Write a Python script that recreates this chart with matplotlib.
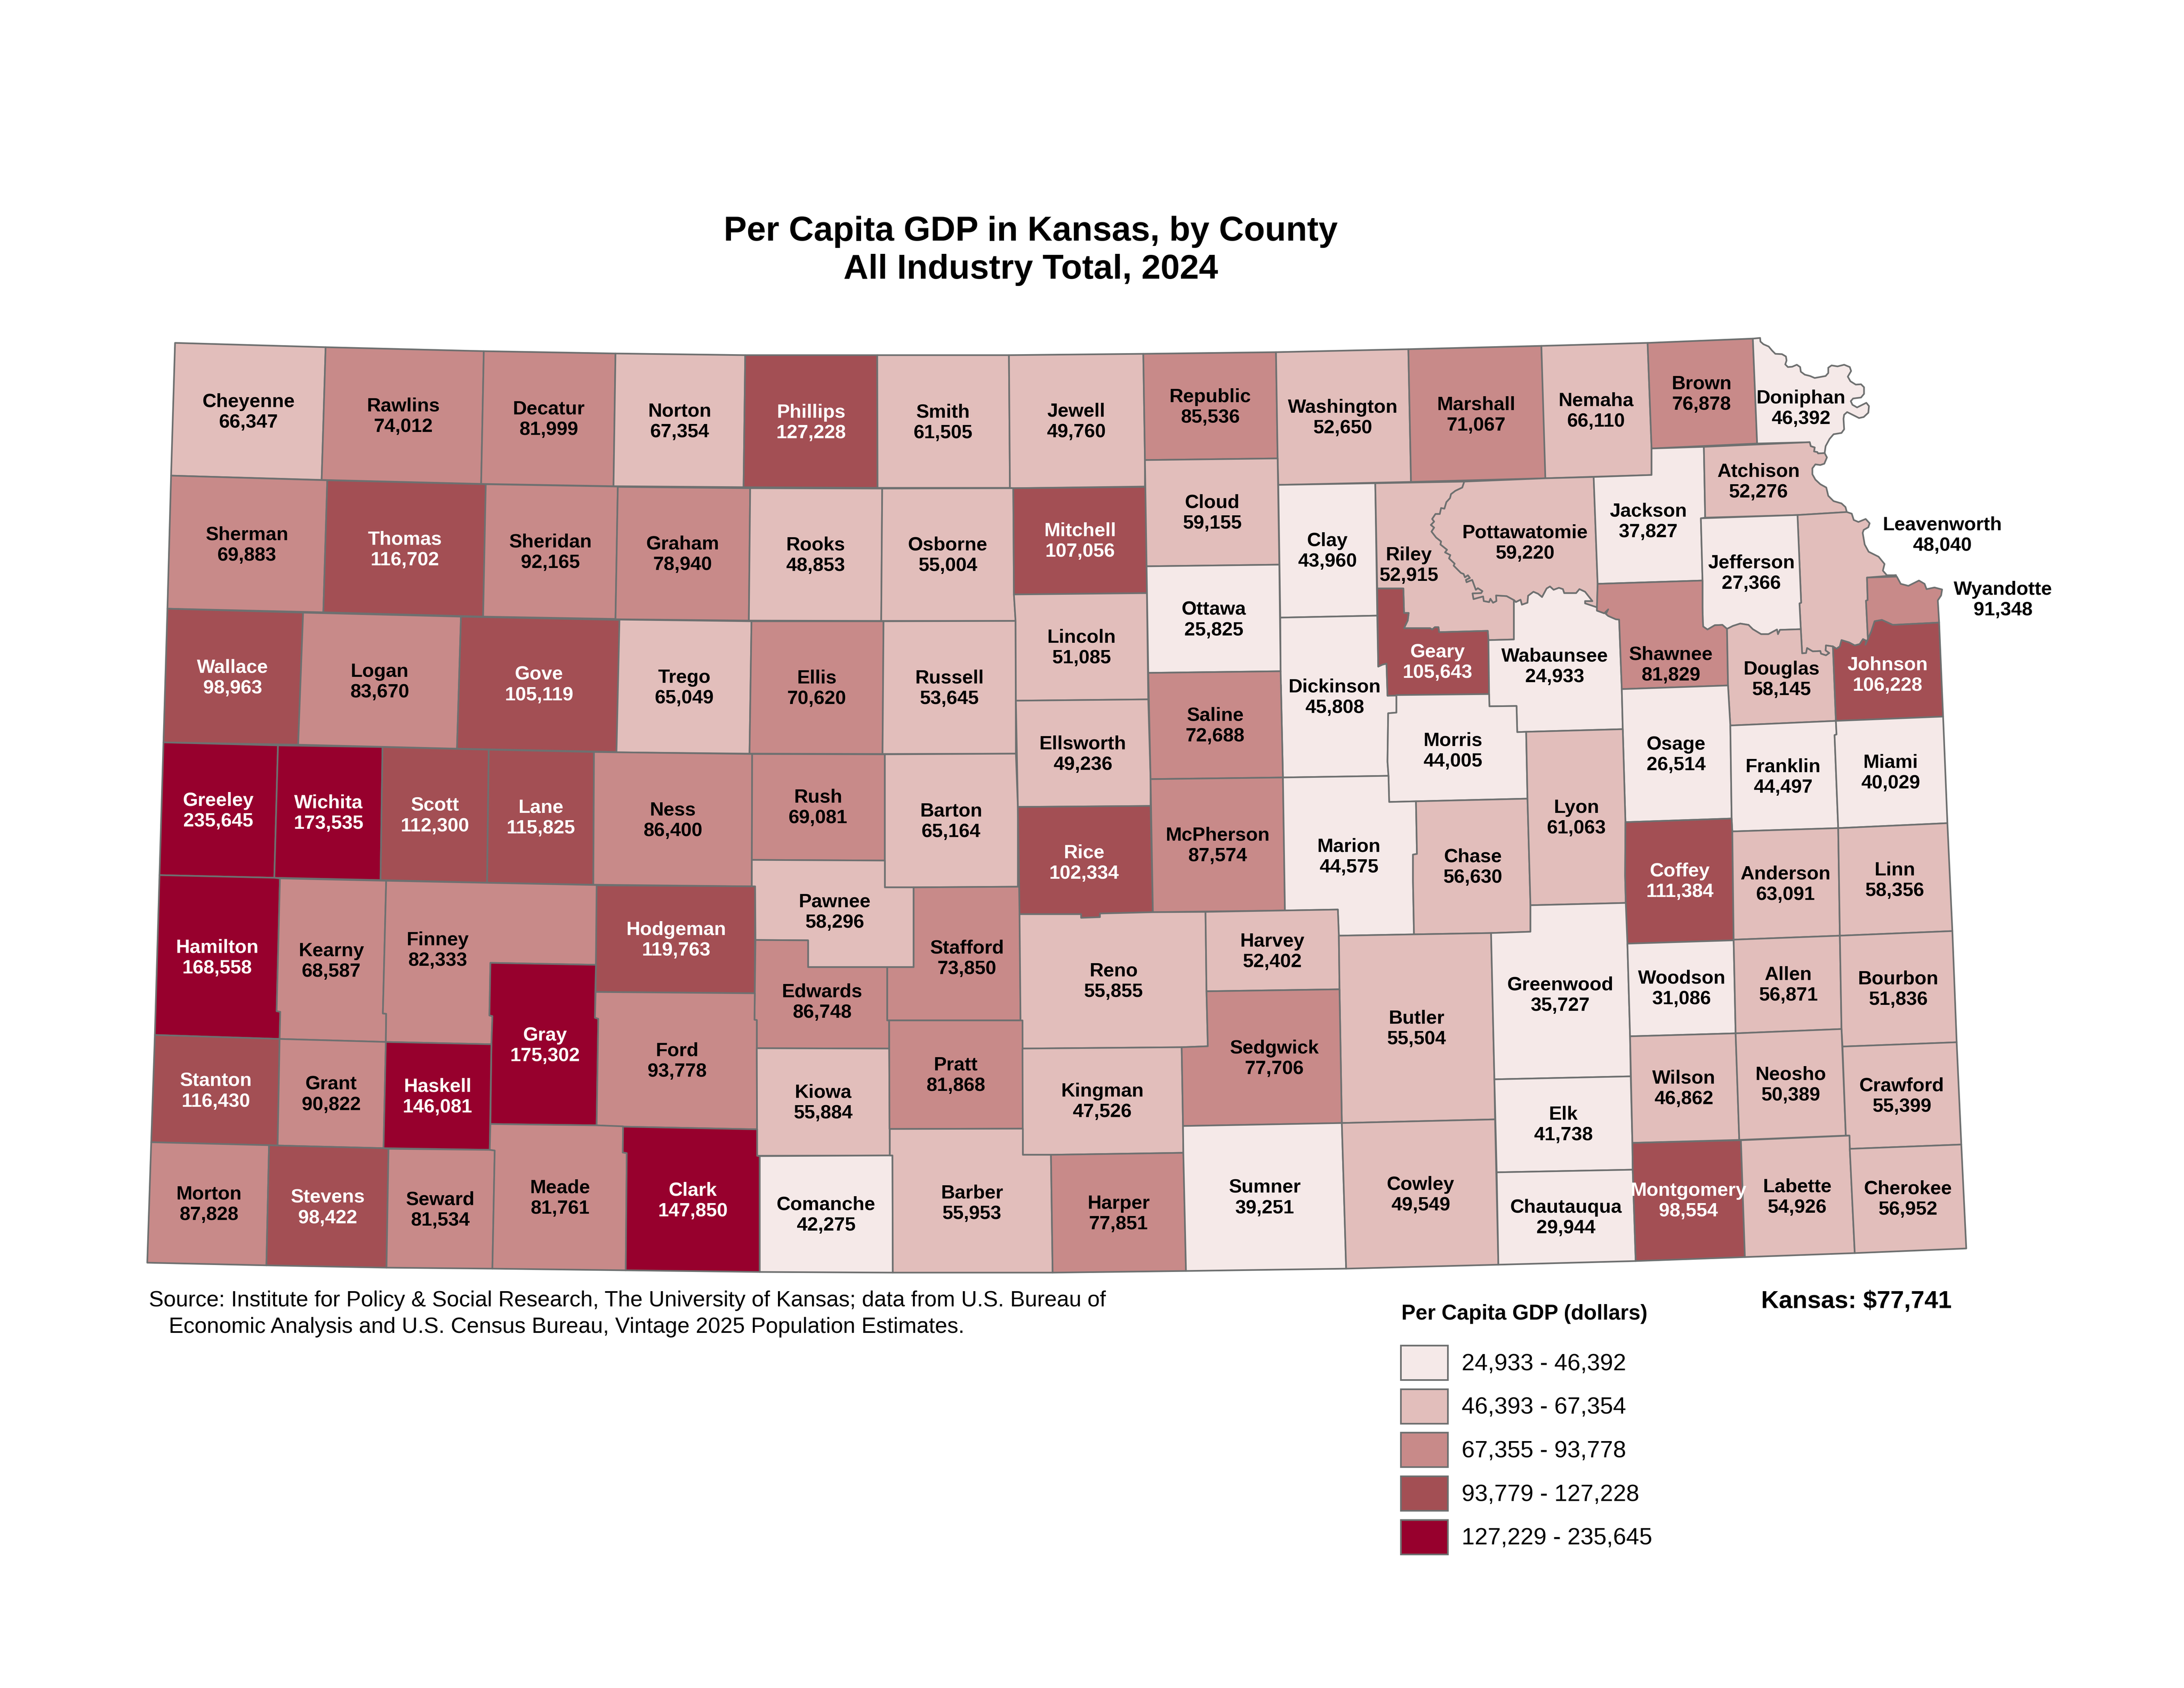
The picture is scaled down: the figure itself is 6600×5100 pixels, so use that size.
import numpy as np
import matplotlib
matplotlib.use("Agg")
import matplotlib.pyplot as plt
from matplotlib.patches import Patch, Polygon

plt.rcParams['font.family'] = ['Liberation Sans', 'DejaVu Sans']

# per capita GDP by county, dollars
gdp = {
  'Cheyenne': 66347, 'Rawlins': 74012, 'Decatur': 81999, 'Norton': 67354, 'Phillips': 127228,
  'Smith': 61505, 'Jewell': 49760, 'Republic': 85536, 'Washington': 52650, 'Marshall': 71067,
  'Nemaha': 66110, 'Brown': 76878, 'Doniphan': 46392, 'Sherman': 69883, 'Thomas': 116702,
  'Sheridan': 92165, 'Graham': 78940, 'Rooks': 48853, 'Osborne': 55004, 'Mitchell': 107056,
  'Cloud': 59155, 'Clay': 43960, 'Riley': 52915, 'Pottawatomie': 59220, 'Jackson': 37827,
  'Atchison': 52276, 'Leavenworth': 48040, 'Jefferson': 27366, 'Wyandotte': 91348,
  'Wallace': 98963, 'Logan': 83670, 'Gove': 105119, 'Trego': 65049, 'Ellis': 70620,
  'Russell': 53645, 'Lincoln': 51085, 'Ottawa': 25825, 'Dickinson': 45808, 'Geary': 105643,
  'Wabaunsee': 24933, 'Shawnee': 81829, 'Douglas': 58145, 'Johnson': 106228, 'Greeley': 235645,
  'Wichita': 173535, 'Scott': 112300, 'Lane': 115825, 'Ness': 86400, 'Rush': 69081,
  'Barton': 65164, 'Ellsworth': 49236, 'Saline': 72688, 'Morris': 44005, 'Osage': 26514,
  'Franklin': 44497, 'Miami': 40029, 'Hamilton': 168558, 'Kearny': 68587, 'Finney': 82333,
  'Hodgeman': 119763, 'Pawnee': 58296, 'Stafford': 73850, 'Rice': 102334, 'McPherson': 87574,
  'Marion': 44575, 'Chase': 56630, 'Lyon': 61063, 'Coffey': 111384, 'Anderson': 63091,
  'Linn': 58356, 'Gray': 175302, 'Edwards': 86748, 'Reno': 55855, 'Harvey': 52402,
  'Butler': 55504, 'Greenwood': 35727, 'Woodson': 31086, 'Allen': 56871, 'Bourbon': 51836,
  'Stanton': 116430, 'Grant': 90822, 'Haskell': 146081, 'Ford': 93778, 'Kiowa': 55884,
  'Pratt': 81868, 'Kingman': 47526, 'Sedgwick': 77706, 'Elk': 41738, 'Wilson': 46862,
  'Neosho': 50389, 'Crawford': 55399, 'Morton': 87828, 'Stevens': 98422, 'Seward': 81534,
  'Meade': 81761, 'Clark': 147850, 'Comanche': 42275, 'Barber': 55953, 'Harper': 77851,
  'Sumner': 39251, 'Cowley': 49549, 'Chautauqua': 29944, 'Montgomery': 98554,
  'Labette': 54926, 'Cherokee': 56952,
}

# upper edge of each class and legend text
class_tops = [46392, 67354, 93778, 127228, 235645]
class_labels = ['24,933 - 46,392', '46,393 - 67,354', '67,355 - 93,778',
                '93,779 - 127,228', '127,229 - 235,645']
class_colors = ['#F5E9E8', '#E2BEBB', '#C88A89', '#A34F54', '#97002D']

# river edges shared by neighbouring counties
big_blue = [(4425,1455),(4419,1473),(4398,1483),(4385,1493),(4382,1505),(4371,1517),(4365,1537),(4355,1535),
            (4351,1553),(4338,1553),(4328,1568),(4334,1576),(4324,1586),(4334,1594),(4326,1606),(4340,1624),
            (4355,1636),(4353,1645),(4373,1661),(4367,1669),(4383,1677),(4379,1687),(4396,1703),(4393,1709),
            (4415,1731),(4423,1734),(4427,1744),(4436,1738),(4442,1746),(4430,1752),(4432,1759),(4449,1752),
            (4460,1782),(4466,1777),(4480,1786),(4476,1792),(4450,1793),(4453,1810),(4482,1802),(4484,1816),
            (4500,1819),(4504,1809),(4512,1821),(4522,1816),(4521,1799),(4553,1801),(4575,1813)]
kaw_pott = [(4575,1813),(4581,1819),(4595,1812),(4599,1827),(4616,1821),(4618,1800),(4634,1788),(4648,1794),
            (4660,1804),(4674,1778),(4684,1772),(4695,1782),(4711,1776),(4723,1780),(4727,1792),(4763,1792),
            (4773,1780),(4790,1788),(4812,1816),(4790,1816),(4790,1823),(4826,1835)]
kaw_shawnee = [(4826,1835),(4826,1845),(4848,1853),(4860,1841),(4853,1855),(4860,1861),(4883,1871),(4893,1872)]
kaw_top = [(5147,1893),(5160,1902),(5182,1889),(5205,1888),(5219,1900)]
kaw_jeff = [(5219,1900),(5237,1891),(5259,1884),(5284,1888),(5297,1901),(5322,1916),(5344,1916),(5370,1902),
            (5373,1916),(5379,1903),(5442,1901)]
kaw_leav = [(5442,1901),(5446,1974),(5458,1973),(5461,1958),(5478,1968),(5501,1967),(5503,1975),(5518,1980),
            (5528,1973),(5517,1965),(5518,1950),(5539,1953)]
kaw_john = [(5539,1953),(5550,1960),(5560,1953),(5565,1934),(5588,1941),(5605,1950),(5620,1946),(5630,1931),
            (5640,1936)]
johnson_north = [(5637,1948),(5655,1908),(5665,1877),(5687,1873),(5720,1888),(5860,1881)]
mo_doniphan = [(5319,1021),(5320,1032),(5329,1040),(5345,1047),(5355,1059),(5365,1069),(5385,1070),(5397,1077),
               (5399,1089),(5395,1101),(5403,1109),(5416,1108),(5430,1102),(5440,1109),(5442,1123),(5454,1132),
               (5470,1136),(5484,1142),(5517,1136),(5525,1127),(5525,1111),(5535,1104),(5553,1107),(5573,1102),
               (5590,1109),(5594,1121),(5584,1138),(5592,1152),(5608,1162),(5624,1161),(5633,1170),(5633,1190),
               (5624,1201),(5600,1204),(5593,1212),(5598,1223),(5612,1231),(5628,1223),(5640,1217),(5648,1227),
               (5646,1247),(5632,1260),(5618,1263),(5602,1255),(5582,1245),(5573,1253),(5571,1265),(5573,1297),
               (5565,1308),(5541,1312),(5529,1326),(5517,1348),(5514,1369)]
doniphan_south = [(5514,1369),(5494,1370),(5492,1366),(5482,1364),(5484,1352),(5472,1348),(5469,1336)]
mo_atchison = [(5514,1369),(5521,1382),(5513,1401),(5501,1405),(5486,1403),(5477,1415),(5477,1433),(5486,1449),
               (5501,1463),(5519,1473),(5525,1498),(5541,1514),(5565,1521),(5577,1532),(5581,1547)]
mo_leav = [(5581,1547),(5596,1552),(5602,1571),(5616,1577),(5638,1568),(5650,1581),(5646,1593),(5632,1601),
           (5629,1610),(5635,1645),(5647,1667),(5677,1682),(5695,1704),(5690,1724),(5702,1738),(5730,1738)]
mo_wyandotte = [(5732,1742),(5744,1764),(5767,1770),(5799,1754),(5816,1764),(5822,1780),(5846,1775),(5869,1781),
                (5866,1799),(5856,1814),(5860,1881)]

# county outlines
outlines = {
  'Cheyenne': [(529,1036),(984,1049),(972,1450),(517,1437)],
  'Rawlins': [(984,1049),(1462,1061),(1454,1462),(972,1450)],
  'Decatur': [(1462,1061),(1860,1068),(1854,1469),(1454,1462)],
  'Norton': [(1860,1068),(2252,1073),(2247,1472),(1854,1469)],
  'Phillips': [(2252,1073),(2651,1073),(2652,1474),(2247,1472)],
  'Smith': [(2651,1073),(3049,1073),(3052,1474),(2652,1474)],
  'Jewell': [(3049,1073),(3455,1069),(3460,1390),(3460,1470),(3062,1475),(3052,1474)],
  'Republic': [(3455,1069),(3856,1064),(3861,1385),(3460,1390)],
  'Washington': [(3856,1064),(4256,1055),(4264,1456),(3863,1465),(3861,1385)],
  'Marshall': [(4256,1055),(4658,1045),(4671,1445),(4264,1456)],
  'Nemaha': [(4658,1045),(4979,1036),(4991,1355),(4991,1435),(4670,1445)],
  'Brown': [(4979,1036),(5297,1023),(5310,1340),(4991,1355)],
  'Doniphan': [(5297,1023)] + mo_doniphan + doniphan_south[1:] + [(5310,1340)],
  'Sherman': [(517,1437),(989,1451),(977,1850),(506,1839)],
  'Thomas': [(989,1451),(1468,1463),(1460,1863),(977,1850)],
  'Sheridan': [(1468,1463),(1867,1470),(1860,1870),(1460,1863)],
  'Graham': [(1867,1471),(2267,1475),(2263,1875),(1860,1871)],
  'Rooks': [(2267,1475),(2666,1476),(2663,1876),(2263,1875)],
  'Osborne': [(2666,1476),(3062,1475),(3064,1796),(3069,1876),(2663,1876)],
  'Mitchell': [(3062,1475),(3463,1471),(3466,1792),(3064,1796)],
  'Cloud': [(3460,1390),(3861,1385),(3866,1706),(3465,1711)],
  'Clay': [(3863,1465),(4156,1460),(4162,1860),(3869,1866)],
  'Riley': [(4156,1460)] + big_blue + [(4575,1932),(4498,1934),(4496,1906),(4349,1910),(4347,1895),(4336,1895),
            (4328,1902),(4322,1898),(4243,1898),(4254,1875),(4257,1852),(4243,1852),(4241,1778),(4162,1778)],
  'Pottawatomie': [(4425,1455),(4671,1445),(4816,1441),(4828,1764)] + kaw_pott[::-1] + big_blue[::-1],
  'Jackson': [(4816,1441),(4991,1435),(4991,1355),(5149,1350),(5153,1564),(5140,1566),(5145,1754),(4828,1764)],
  'Atchison': [(5149,1350)] + doniphan_south[::-1] + mo_atchison[1:] + [(5432,1556),(5153,1564)],
  'Leavenworth': [(5432,1556)] + mo_leav + [(5642,1745),(5644,1813),(5639,1815),(5645,1936)]
                 + kaw_john[::-1] + kaw_leav[::-1][1:] + [(5438,1823),(5443,1821)],
  'Jefferson': [(5140,1566),(5432,1556),(5443,1821),(5438,1823)] + kaw_jeff[::-1] + kaw_top[::-1]
               + [(5146,1878),(5145,1836),(5145,1754)],
  'Wyandotte': [(5642,1745)] + mo_wyandotte + johnson_north[::-1][1:] + [(5645,1936),(5639,1815),(5644,1813)],
  'Wallace': [(506,1839),(916,1851),(901,2250),(494,2243)],
  'Logan': [(916,1851),(1393,1863),(1381,2262),(901,2250)],
  'Gove': [(1393,1863),(1874,1873),(1864,2272),(1381,2262)],
  'Trego': [(1872,1872),(2271,1877),(2265,2277),(1863,2273)],
  'Ellis': [(2271,1877),(2670,1877),(2667,2278),(2265,2277)],
  'Russell': [(2670,1877),(3069,1876),(3070,2277),(2667,2278)],
  'Lincoln': [(3064,1796),(3466,1792),(3470,2113),(3070,2117),(3069,1876)],
  'Ottawa': [(3465,1711),(3866,1706),(3870,2028),(3470,2033)],
  'Dickinson': [(3869,1866),(4162,1860),(4165,2014),(4178,2008),(4190,2005),(4193,2102),(4220,2100),(4220,2153),
                (4195,2155),(4193,2301),(4196,2344),(3877,2349),(3871,2069),(3865,2067),(3865,2056),(3870,2028)],
  'Geary': [(4162,1778),(4241,1778),(4243,1852),(4257,1852),(4254,1875),(4243,1898),(4322,1898),(4328,1902),
            (4336,1895),(4347,1895),(4349,1910),(4496,1906),(4498,1934),
            (4500,2097),(4193,2102),(4190,2005),(4178,2008),(4165,2014)],
  'Wabaunsee': kaw_pott + kaw_shawnee[1:] + [(4901,2082),(4904,2203),(4612,2211),(4585,2212),(4583,2133),
               (4501,2134),(4500,2097),(4498,1934),(4575,1932)],
  'Shawnee': [(4828,1764),(5145,1754),(5145,1836),(5146,1878)] + kaw_top + [(5222,2071),(4901,2082)] + kaw_shawnee[::-1],
  'Douglas': kaw_jeff + kaw_leav[1:] + [(5548,2178),(5229,2192),(5222,2071)],
  'Johnson': kaw_john + johnson_north + [(5872,2165),(5548,2178)],
  'Greeley': [(494,2243),(840,2252),(829,2652),(482,2644)],
  'Wichita': [(840,2252),(1156,2257),(1150,2659),(829,2652)],
  'Scott': [(1156,2257),(1477,2265),(1472,2667),(1150,2659)],
  'Lane': [(1477,2265),(1795,2272),(1793,2673),(1472,2667)],
  'Ness': [(1795,2272),(2273,2278),(2272,2678),(1793,2673)],
  'Rush': [(2273,2278),(2674,2279),(2674,2600),(2272,2598)],
  'Barton': [(2674,2279),(3070,2277),(3076,2438),(3076,2679),(2761,2681),(2674,2681)],
  'Ellsworth': [(3070,2117),(3470,2113),(3477,2354),(3477,2435),(3076,2438)],
  'Saline': [(3470,2033),(3870,2028),(3877,2349),(3477,2354)],
  'Morris': [(4220,2100),(4500,2097),(4501,2134),(4583,2133),(4585,2212),(4612,2211),(4616,2413),(4198,2423),
             (4196,2344),(4193,2301),(4195,2155),(4220,2153)],
  'Osage': [(4901,2082),(5222,2071),(5229,2192),(5233,2473),(4912,2484),(4904,2203)],
  'Franklin': [(5229,2192),(5548,2178),(5550,2219),(5544,2221),(5555,2502),(5235,2512),(5233,2473)],
  'Miami': [(5548,2178),(5872,2165),(5885,2487),(5555,2502),(5544,2221),(5550,2219)],
  'Hamilton': [(482,2644),(829,2652),(846,2654),(836,3055),(847,3057),(845,3139),(468,3127)],
  'Kearny': [(846,2654),(1167,2661),(1157,3062),(1167,3063),(1166,3148),(845,3139),(847,3057),(836,3055)],
  'Finney': [(1167,2661),(1804,2674),(1801,2915),(1482,2909),(1479,3068),(1488,3070),(1485,3155),(1166,3148),
             (1167,3063),(1157,3062)],
  'Hodgeman': [(1803,2675),(2282,2678),(2281,3001),(1800,2997)],
  'Pawnee': [(2272,2598),(2674,2600),(2674,2681),(2761,2681),(2761,2922),(2442,2922),(2442,2841),(2283,2840),
             (2282,2678),(2272,2678)],
  'Stafford': [(2761,2681),(3081,2679),(3084,3083),(2681,3083),(2681,2922),(2761,2922)],
  'Rice': [(3076,2438),(3477,2435),(3484,2756),(3324,2760),(3324,2771),(3267,2773),(3267,2762),(3081,2762)],
  'McPherson': [(3477,2354),(3877,2349),(3883,2751),(3484,2756)],
  'Marion': [(3877,2349),(4196,2344),(4198,2423),(4279,2421),(4282,2580),(4270,2582),(4270,2663),(4273,2823),
             (4046,2827),(4043,2748),(3883,2751)],
  'Chase': [(4279,2421),(4616,2413),(4625,2735),(4625,2815),(4506,2819),(4273,2823),(4270,2663),(4270,2582),(4282,2580)],
  'Lyon': [(4612,2211),(4904,2203),(4912,2484),(4911,2645),(4913,2728),(4625,2735),(4616,2413)],
  'Coffey': [(4912,2484),(5233,2473),(5235,2512),(5239,2841),(4918,2851),(4913,2728),(4911,2645)],
  'Anderson': [(5235,2512),(5555,2502),(5560,2827),(5239,2839)],
  'Linn': [(5555,2502),(5885,2487),(5900,2813),(5560,2827)],
  'Gray': [(1482,2909),(1801,2915),(1799,2996),(1798,3075),(1808,3078),(1803,3400),(1482,3396),(1485,3155),
           (1488,3070),(1479,3068)],
  'Edwards': [(2283,2840),(2442,2841),(2442,2922),(2681,2922),(2681,3083),(2687,3083),(2687,3168),(2287,3167),
              (2287,3082),(2280,3081),(2281,3001)],
  'Reno': [(3081,2762),(3267,2762),(3267,2773),(3324,2771),(3324,2760),(3484,2756),(3643,2755),(3646,2995),
           (3650,3161),(3571,3164),(3090,3168),(3084,3083)],
  'Harvey': [(3643,2755),(4043,2748),(4046,2827),(4048,2989),(3646,2995)],
  'Butler': [(4046,2827),(4273,2823),(4506,2819),(4516,3261),(4518,3382),(4055,3393),(4048,2989)],
  'Greenwood': [(4506,2819),(4625,2815),(4625,2735),(4913,2728),(4918,2851),(4926,3131),(4928,3252),(4516,3261)],
  'Woodson': [(4918,2851),(5239,2841),(5245,3122),(4926,3131)],
  'Allen': [(5239,2839),(5560,2827),(5565,3109),(5245,3122)],
  'Bourbon': [(5560,2827),(5900,2813),(5913,3149),(5568,3162),(5565,3109)],
  'Stanton': [(468,3127),(845,3139),(839,3461),(813,3460),(457,3451)],
  'Grant': [(845,3139),(1166,3148),(1159,3469),(839,3461)],
  'Haskell': [(1166,3148),(1485,3155),(1480,3474),(1159,3469)],
  'Ford': [(1800,2997),(2281,3001),(2280,3081),(2287,3082),(2287,3167),(2288,3412),(1883,3404),(1803,3400),
           (1808,3078),(1798,3075)],
  'Kiowa': [(2287,3167),(2687,3168),(2689,3491),(2288,3492)],
  'Pratt': [(2687,3083),(3090,3083),(3091,3410),(2688,3411)],
  'Kingman': [(3090,3168),(3571,3164),(3575,3402),(3576,3483),(3176,3489),(3091,3489)],
  'Sedgwick': [(3650,3161),(3646,2995),(4048,2989),(4055,3393),(3575,3402),(3571,3164)],
  'Elk': [(4516,3261),(4928,3252),(4933,3453),(4934,3534),(4523,3542)],
  'Wilson': [(4926,3131),(5245,3122),(5256,3444),(4933,3453)],
  'Neosho': [(5245,3122),(5565,3109),(5578,3431),(5256,3444)],
  'Crawford': [(5568,3162),(5913,3149),(5927,3458),(5590,3471),(5589,3431),(5578,3431)],
  'Morton': [(457,3451),(813,3460),(805,3823),(445,3815)],
  'Stevens': [(813,3460),(839,3461),(1159,3469),(1174,3471),(1168,3830),(805,3823)],
  'Seward': [(1174,3471),(1480,3474),(1495,3476),(1488,3833),(1168,3830)],
  'Meade': [(1482,3396),(1803,3400),(1883,3403),(1882,3482),(1894,3484),(1891,3838),(1488,3833),(1495,3476),(1480,3474)],
  'Clark': [(1883,3404),(2288,3412),(2288,3492),(2296,3493),(2296,3843),(1891,3838),(1894,3484),(1882,3482)],
  'Comanche': [(2296,3493),(2697,3491),(2698,3845),(2296,3843)],
  'Barber': [(2689,3411),(3091,3410),(3091,3489),(3176,3489),(3181,3845),(2698,3845),(2697,3491),(2689,3491)],
  'Harper': [(3176,3489),(3576,3483),(3584,3840),(3181,3845)],
  'Sumner': [(3575,3402),(4055,3393),(4068,3833),(3584,3840),(3576,3483)],
  'Cowley': [(4055,3393),(4518,3382),(4528,3821),(4068,3833)],
  'Chautauqua': [(4523,3542),(4934,3534),(4943,3810),(4528,3821)],
  'Montgomery': [(4933,3453),(5261,3445),(5273,3798),(4943,3810),(4934,3534)],
  'Labette': [(5261,3445),(5589,3431),(5590,3471),(5605,3786),(5273,3798)],
  'Cherokee': [(5590,3471),(5927,3458),(5942,3772),(5605,3786)],
}

# where each county's label sits on the map
label_xy = {
  'Cheyenne': (751,1243), 'Rawlins': (1219,1256), 'Decatur': (1658,1265), 'Norton': (2054,1272),
  'Phillips': (2451,1275), 'Smith': (2850,1275), 'Jewell': (3252,1272), 'Republic': (3657,1228),
  'Washington': (4058,1260), 'Marshall': (4461,1252), 'Nemaha': (4823,1240), 'Brown': (5142,1189),
  'Doniphan': (5442,1232), 'Sherman': (746,1645), 'Thomas': (1223,1659), 'Sheridan': (1663,1667),
  'Graham': (2063,1673), 'Rooks': (2464,1676), 'Osborne': (2864,1676), 'Mitchell': (3264,1633),
  'Cloud': (3663,1548), 'Clay': (4011,1663), 'Riley': (4257,1706), 'Pottawatomie': (4608,1639),
  'Jackson': (4981,1574), 'Atchison': (5314,1454), 'Leavenworth': (5869,1615), 'Jefferson': (5292,1730),
  'Wyandotte': (6053,1810), 'Wallace': (703,2046), 'Logan': (1147,2058), 'Gove': (1629,2067),
  'Trego': (2068,2076), 'Ellis': (2468,2078), 'Russell': (2869,2078), 'Lincoln': (3268,1955),
  'Ottawa': (3668,1871), 'Dickinson': (4033,2105), 'Geary': (4344,1999), 'Wabaunsee': (4698,2012),
  'Shawnee': (5049,2007), 'Douglas': (5383,2051), 'Johnson': (5704,2038), 'Greeley': (660,2448),
  'Wichita': (993,2455), 'Scott': (1314,2463), 'Lane': (1634,2469), 'Ness': (2033,2477),
  'Rush': (2472,2438), 'Barton': (2874,2480), 'Ellsworth': (3272,2277), 'Saline': (3672,2191),
  'Morris': (4390,2267), 'Osage': (5065,2278), 'Franklin': (5388,2346), 'Miami': (5713,2333),
  'Hamilton': (656,2892), 'Kearny': (1001,2902), 'Finney': (1322,2869), 'Hodgeman': (2043,2838),
  'Pawnee': (2522,2754), 'Stafford': (2922,2894), 'Rice': (3276,2606), 'McPherson': (3679,2553),
  'Marion': (4076,2587), 'Chase': (4451,2618), 'Lyon': (4764,2469), 'Coffey': (5076,2661),
  'Anderson': (5396,2670), 'Linn': (5726,2658), 'Gray': (1647,3157), 'Edwards': (2484,3026),
  'Reno': (3365,2963), 'Harvey': (3845,2873), 'Butler': (4281,3106), 'Greenwood': (4715,3005),
  'Woodson': (5082,2985), 'Allen': (5404,2974), 'Bourbon': (5736,2987), 'Stanton': (652,3295),
  'Grant': (1001,3305), 'Haskell': (1322,3312), 'Ford': (2046,3204), 'Kiowa': (2487,3330),
  'Pratt': (2888,3247), 'Kingman': (3331,3326), 'Sedgwick': (3851,3196), 'Elk': (4724,3396),
  'Wilson': (5088,3287), 'Neosho': (5411,3276), 'Crawford': (5747,3310), 'Morton': (631,3637),
  'Stevens': (990,3647), 'Seward': (1330,3654), 'Meade': (1692,3618), 'Clark': (2094,3626),
  'Comanche': (2496,3669), 'Barber': (2937,3634), 'Harper': (3380,3665), 'Sumner': (3822,3617),
  'Cowley': (4293,3608), 'Chautauqua': (4732,3677), 'Montgomery': (5102,3626), 'Labette': (5431,3615),
  'Cherokee': (5766,3621),
}

EDGE = '#6E7070'

fig = plt.figure(figsize=(11, 8.5), dpi=600)
ax = fig.add_axes([0, 0, 1, 1])
ax.set_xlim(0, 6600)
ax.set_ylim(5100, 0)
ax.axis('off')

for name, pts in outlines.items():
  k = np.searchsorted(class_tops, gdp[name])
  ax.add_patch(Polygon(pts, closed=True, facecolor=class_colors[k], edgecolor=EDGE,
                       linewidth=0.6, joinstyle='round'))

for name, (x, y) in label_xy.items():
  k = np.searchsorted(class_tops, gdp[name])
  # the two darkest classes get white labels
  col = 'white' if k >= 3 else 'black'
  ax.text(x, y + 3, f"{name}\n{gdp[name]:,}", ha='center', va='center', ma='center',
          fontsize=7, fontweight='bold', color=col, linespacing=1.2)

ax.text(3115, 758, "Per Capita GDP in Kansas, by County\nAll Industry Total, 2024", ha='center', va='center',
        ma='center', fontsize=12.5, fontweight='bold', linespacing=1.25)

ax.text(450, 3930, "Source: Institute for Policy & Social Research, The University of Kansas; data from U.S. Bureau of",
        ha='left', va='center', fontsize=8)
ax.text(510, 4010, "Economic Analysis and U.S. Census Bureau, Vintage 2025 Population Estimates.",
        ha='left', va='center', fontsize=8)

ax.text(5322, 3932, "Kansas: $77,741", ha='left', va='center', fontsize=8.9, fontweight='bold')
ax.text(4235, 3970, "Per Capita GDP (dollars)", ha='left', va='center', fontsize=7.7, fontweight='bold')

handles = [Patch(facecolor=c, edgecolor=EDGE, linewidth=0.6) for c in class_colors]
ax.legend(handles, class_labels, loc='upper left', bbox_to_anchor=(4233, 4065), bbox_transform=ax.transData,
          frameon=False, fontsize=8.5, borderpad=0, borderaxespad=0, handlelength=2.0, handleheight=1.883,
          labelspacing=0.39, handletextpad=0.6)

fig.savefig('out.png', dpi=600)
